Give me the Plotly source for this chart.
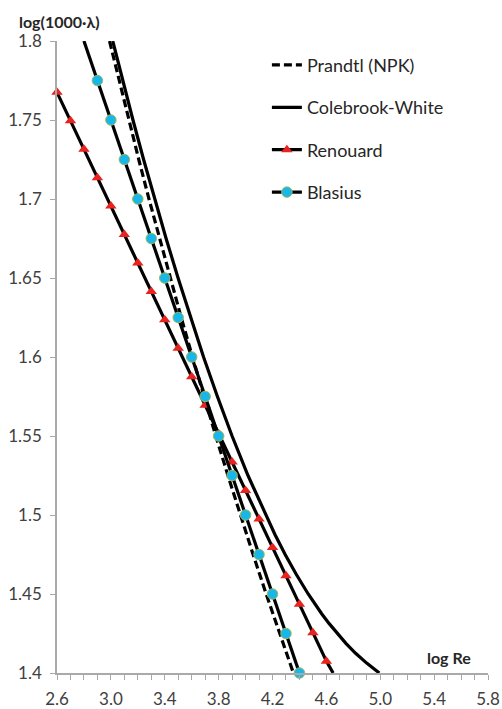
import plotly.graph_objects as go

# Prandtl (NPK) smooth-pipe law
prandtl_x = [2.990, 3.061, 3.133, 3.207, 3.283, 3.361, 3.440, 3.522, 3.606,
             3.691, 3.779, 3.869, 3.961, 4.056, 4.153, 4.252, 4.355]
prandtl_y = [1.800, 1.775, 1.750, 1.725, 1.700, 1.675, 1.650, 1.625, 1.600,
             1.575, 1.550, 1.525, 1.500, 1.475, 1.450, 1.425, 1.400]

# Colebrook-White
cw_x = [3.014, 3.088, 3.164, 3.243, 3.325, 3.410, 3.499, 3.591, 3.688, 3.791,
        3.900, 4.018, 4.148, 4.219, 4.294, 4.376, 4.465, 4.514, 4.565, 4.621,
        4.680, 4.745, 4.817, 4.899, 4.993]
cw_y = [1.800, 1.775, 1.750, 1.725, 1.700, 1.675, 1.650, 1.625, 1.600, 1.575,
        1.550, 1.525, 1.500, 1.4875, 1.475, 1.4625, 1.450, 1.44375, 1.4375,
        1.43125, 1.425, 1.41875, 1.4125, 1.40625, 1.400]

# Renouard (last value = where the line meets the axis, no marker there)
ren_x = [2.6, 2.7, 2.8, 2.9, 3.0, 3.1, 3.2, 3.3, 3.4, 3.5, 3.6, 3.7, 3.8, 3.9,
         4.0, 4.1, 4.2, 4.3, 4.4, 4.5, 4.6, 4.65]
ren_y = [1.7675, 1.7495, 1.7315, 1.7135, 1.6955, 1.6775, 1.6595, 1.6415,
         1.6235, 1.6055, 1.5875, 1.5695, 1.5515, 1.5335, 1.5155, 1.4975,
         1.4795, 1.4615, 1.4435, 1.4255, 1.4075, 1.400]

# Blasius (first value = where the line meets the top, no marker there)
bla_x = [2.8, 2.9, 3.0, 3.1, 3.2, 3.3, 3.4, 3.5, 3.6, 3.7, 3.8, 3.9, 4.0,
         4.1, 4.2, 4.3, 4.4]
bla_y = [1.800, 1.775, 1.750, 1.725, 1.700, 1.675, 1.650, 1.625, 1.600,
         1.575, 1.550, 1.525, 1.500, 1.475, 1.450, 1.425, 1.400]

x_ticks = [2.6, 3.0, 3.4, 3.8, 4.2, 4.6, 5.0, 5.4, 5.8]
x_ticktext = ["2.6", "3.0", "3.4", "3.8", "4.2", "4.6", "5.0", "5.4", "5.8"]
y_ticks = [1.4, 1.45, 1.5, 1.55, 1.6, 1.65, 1.7, 1.75, 1.8]
y_ticktext = ["1.4", "1.45", "1.5", "1.55", "1.6", "1.65", "1.7", "1.75", "1.8"]

FONT = "Lato, 'Open Sans', sans-serif"
AXIS_GREY = "#A9A9A9"
LW = 3.2
TICK_FONT = dict(family=FONT, size=17, color="#404040")

fig = go.Figure()
fig.add_trace(go.Scatter(
    x=prandtl_x, y=prandtl_y, mode="lines", name="Prandtl (NPK)",
    line=dict(color="black", width=LW, dash="8px,4px"),
    legendgroup="a", cliponaxis=False))
fig.add_trace(go.Scatter(
    x=cw_x, y=cw_y, mode="lines", name="Colebrook-White",
    line=dict(color="black", width=LW),
    legendgroup="b", cliponaxis=False))
# Renouard: short end segment (line only) + marked series
fig.add_trace(go.Scatter(
    x=ren_x[-2:], y=ren_y[-2:], mode="lines", showlegend=False,
    line=dict(color="black", width=LW), legendgroup="c", cliponaxis=False,
    hoverinfo="skip"))
fig.add_trace(go.Scatter(
    x=ren_x[:-1], y=ren_y[:-1], mode="lines+markers", name="Renouard",
    line=dict(color="black", width=LW),
    marker=dict(symbol="triangle-up", size=10, color="#E8221E",
                line=dict(width=0)),
    legendgroup="c", cliponaxis=False))
# Blasius: short start segment (line only) + marked series
fig.add_trace(go.Scatter(
    x=bla_x[:2], y=bla_y[:2], mode="lines", showlegend=False,
    line=dict(color="black", width=LW), legendgroup="d", cliponaxis=False,
    hoverinfo="skip"))
fig.add_trace(go.Scatter(
    x=bla_x[1:], y=bla_y[1:], mode="lines+markers", name="Blasius",
    line=dict(color="black", width=LW),
    marker=dict(symbol="circle", size=10.5, color="#19B6EA",
                line=dict(width=1, color="#9BBB59")),
    legendgroup="d", cliponaxis=False))

fig.update_layout(
    width=502, height=709,
    margin=dict(l=57, r=14, t=41, b=36),
    paper_bgcolor="white", plot_bgcolor="white",
    font=dict(family=FONT, size=16, color="#404040"),
    showlegend=True,
    legend=dict(x=0.487, y=0.991, xanchor="left", yanchor="top",
                font=dict(family=FONT, size=18, color="#262626"),
                bgcolor="rgba(255,255,255,0)", tracegroupgap=16),
    xaxis=dict(range=[2.6, 5.8], tickvals=x_ticks, ticktext=x_ticktext,
               showgrid=False, zeroline=False, showline=True,
               linecolor=AXIS_GREY, linewidth=1.5, automargin=False,
               ticks="outside", ticklen=5, tickcolor=AXIS_GREY, tickwidth=1,
               ticklabelstandoff=5,
               minor=dict(dtick=0.1, tick0=2.6, ticks="outside", ticklen=5,
                          tickcolor=AXIS_GREY, tickwidth=1, showgrid=False),
               tickfont=TICK_FONT),
    yaxis=dict(range=[1.4, 1.8], tickvals=y_ticks, ticktext=y_ticktext,
               showgrid=False, zeroline=False, showline=True,
               linecolor=AXIS_GREY, linewidth=1.5, automargin=False,
               ticks="outside", ticklen=5, tickcolor=AXIS_GREY, tickwidth=1,
               ticklabelstandoff=5,
               tickfont=TICK_FONT),
    annotations=[
        dict(text="<b>log(1000·λ)</b>", xref="paper", yref="paper",
             x=-0.092, y=1.031, xanchor="left", yanchor="middle",
             showarrow=False, font=dict(family=FONT, size=16, color="#262626")),
        dict(text="<b>log Re</b>", xref="paper", yref="paper",
             x=0.9095, y=0.024, xanchor="center", yanchor="middle",
             showarrow=False, font=dict(family=FONT, size=16, color="#262626")),
    ],
)

fig.write_html(
    "out.html",
    config={"displayModeBar": False},
    post_script="document.body.style.margin='0';"
                "document.body.style.overflow='hidden';")
